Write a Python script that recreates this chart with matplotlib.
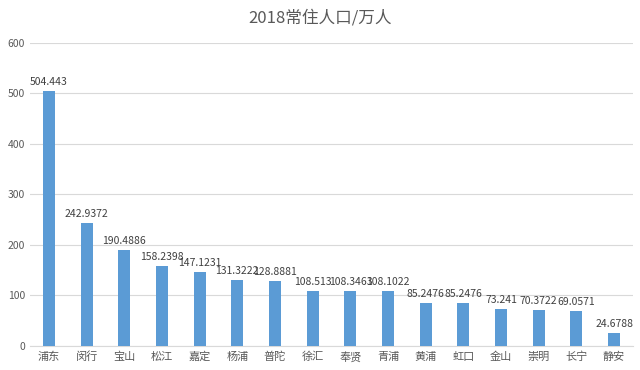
import numpy as np
import matplotlib
matplotlib.use('Agg')
import matplotlib.pyplot as plt

plt.rcParams['font.family'] = ['Noto Sans CJK SC', 'DejaVu Sans']

districts = ['浦东', '闵行', '宝山', '松江', '嘉定', '杨浦', '普陀', '徐汇',
             '奉贤', '青浦', '黄浦', '虹口', '金山', '崇明', '长宁', '静安']
population = [504.443, 242.9372, 190.4886, 158.2398, 147.1231, 131.3222, 128.8881, 108.513,
              108.3463, 108.1022, 85.2476, 85.2476, 73.241, 70.3722, 69.0571, 24.6788]
yticks = [0, 100, 200, 300, 400, 500, 600]

fig = plt.figure(figsize=(6.4, 3.7), dpi=100)
ax = fig.add_axes([0.047, 0.065, 0.942, 0.819])

x = np.arange(len(districts))
ax.bar(x, population, width=0.32, color='#5B9BD5', zorder=3)
for xi, v in zip(x, population):
    ax.text(xi, v + 8, str(v), ha='center', va='bottom', fontsize=7.5, color='#404040')

ax.set_xlim(-0.5, len(districts) - 0.5)
ax.set_ylim(0, 600)
ax.set_yticks(yticks)
ax.set_xticks(x)
ax.set_xticklabels(districts)
ax.tick_params(axis='both', length=0, labelsize=7.5, colors='#595959')
ax.tick_params(axis='x', labelsize=8, pad=4)
ax.grid(axis='y', color='#D9D9D9', linewidth=0.8, zorder=0)
for s in ['top', 'right', 'left']:
    ax.spines[s].set_visible(False)
ax.spines['bottom'].set_color('#D9D9D9')

fig.suptitle('2018常住人口/万人', y=0.975, fontsize=12, color='#595959')

plt.savefig('out.png', dpi=100)
